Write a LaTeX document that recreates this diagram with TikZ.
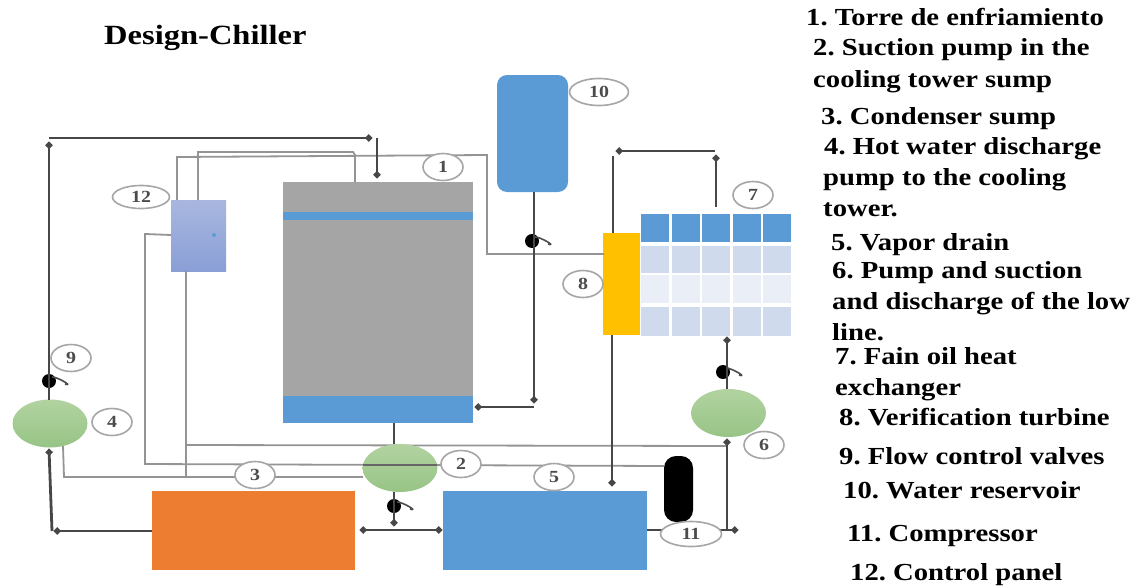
\documentclass[tikz,border=0pt]{standalone}
\usepackage{fontspec}
\setmainfont[FakeStretch=1.17]{Liberation Serif}
\frenchspacing
\usetikzlibrary{arrows.meta,shapes.geometric}
\definecolor{wblue}{HTML}{5B9BD5}
\definecolor{wgray}{HTML}{A5A5A5}
\definecolor{worange}{HTML}{ED7D31}
\definecolor{wyellow}{HTML}{FFC000}
\definecolor{wlt}{HTML}{CFDAEC}
\definecolor{wltt}{HTML}{E9EEF7}
\definecolor{wgl}{HTML}{B2D3A0}
\definecolor{wgd}{HTML}{97C486}
\definecolor{pl}{HTML}{A9B7DF}
\definecolor{pd}{HTML}{8A9FD6}
\tikzset{
 x=1pt,y=-1pt,
 box/.style={rectangle,draw=none,inner sep=0,outer sep=0,minimum width=#1},
 pump/.style={ellipse,draw=none,inner sep=0,outer sep=0,minimum width=75pt,minimum height=48pt,top color=wgl,bottom color=wgd},
 tag/.style={ellipse,draw=black!35,line width=1.6pt,fill=white,inner sep=0,outer sep=0,minimum width=40pt,minimum height=27pt,font=\fontsize{17}{17}\selectfont\bfseries,text=black!70},
 pipe/.style={draw=black!72,line width=2.8pt},
 wire/.style={draw=black!42,line width=1.8pt},
 dot/.style={-{Circle[length=6.5pt]}},
 valve/.style={circle,fill=black,inner sep=0,outer sep=0,minimum size=14pt},
 handle/.style={draw=black!70,line width=1.6pt},
 legend/.style={anchor=base west,inner sep=0,font=\fontsize{24.5}{24.5}\selectfont\bfseries},
 cell/.style={rectangle,inner sep=0,outer sep=0,minimum width=28pt,minimum height=#1},
}
\begin{document}
\begin{tikzpicture}
\useasboundingbox (0,0) rectangle (1139,586);
% equipment
\node[box=190pt,minimum height=241pt,fill=wgray] (tower) at (378,302.5) {};
\node[box=190pt,minimum height=8pt,fill=wblue] (band) at (378,216) {};
\node[box=190pt,minimum height=27pt,fill=wblue] (basin) at (378,409.5) {};
\node[box=55pt,minimum height=71pt,top color=pl,bottom color=pd] (panel) at (198.5,235.5) {};
\node[circle,fill=wblue,inner sep=0,minimum size=4pt] (pdot) at (214,235) {};
\node[box=203pt,minimum height=79pt,fill=worange] (cond) at (253.5,530.5) {};
\node[box=204pt,minimum height=79pt,fill=wblue] (sump) at (545,530.5) {};
\node[rectangle,rounded corners=10pt,fill=wblue,inner sep=0,outer sep=0,minimum width=71pt,minimum height=117pt] (res) at (532.5,133.5) {};
\node[rectangle,rounded corners=12pt,fill=black,inner sep=0,outer sep=0,minimum width=29pt,minimum height=66pt] (comp) at (678.5,489) {};
\node[box=37pt,minimum height=102pt,fill=wyellow] (turb) at (621.5,284) {};
% exchanger table
\foreach \c/\x in {a/655,b/686,c/716,d/747,e/777}{
  \node[cell=28pt,fill=wblue] (h\c) at (\x,227.5) {};
  \node[cell=27pt,fill=wlt] (r\c) at (\x,259.5) {};
  \node[cell=28pt,fill=wltt] (s\c) at (\x,289) {};
  \node[cell=29pt,fill=wlt] (t\c) at (\x,321.5) {};
}
% thin wires
\coordinate (w1) at (177,200); \coordinate (w2) at (198,200);
\coordinate (w3) at (171,235); \coordinate (w4) at (186,271);
\coordinate (w5) at (63,446); \coordinate (w6) at (363,477);
\coordinate (w7) at (664,466); \coordinate (w8) at (727,446);
\coordinate (w9) at (186,477); \coordinate (w10) at (186,445);
\coordinate (w11) at (355,182); \coordinate (w12) at (604,254);
\draw[wire] (w1) -- (177,157) -- (487,155) -- (487,254) -- (w12);
\draw[wire] (w2) -- (198,152) -- (353,152) -- (355,155) -- (w11);
\draw[wire] (w3) -- (145,234) -- (145,464) -- (w7);
\draw[wire] (w4) -- (w9);
\draw[wire] (w10) -- (w8);
\draw[wire] (w5) -- (64,477) -- (w6);
% pumps
\node[pump] (p4) at (50,423.5) {};
\node[pump] (p2) at (400,468) {};
\node[pump] (p6) at (728.5,413) {};
\draw[draw=black!60,line width=1.2pt] (363,465) -- (437,465);
% valves
\node[valve] (v9) at (49,381) {};
\node[valve] (v2) at (394,506) {};
\node[valve] (v6) at (723,372) {};
\node[valve] (v10) at (532,241) {};
\foreach \v in {v9,v2,v6,v10}{
  \draw[handle] (\v.center) ++(3,-4) .. controls +(6,0) and +(9,3) .. ++(13,7);
}
% thick pipes
\coordinate (a1) at (49,400); \coordinate (a2) at (49,142);
\coordinate (a3) at (49,138); \coordinate (a4) at (372,138);
\coordinate (a5) at (377,138); \coordinate (a6) at (377,178);
\draw[pipe,dot] (p4.north -| a1) -- (a2);
\draw[pipe,dot] (a3) -- (a4);
\draw[pipe,dot] (a5) -- (a6);
\coordinate (b1) at (394,423); \coordinate (b2) at (394,444);
\coordinate (b3) at (394,492); \coordinate (b4) at (394,526);
\draw[pipe] (b1) -- (b2);
\draw[pipe,dot] (b3) -- (b4);
\coordinate (c1) at (360,530); \coordinate (c2) at (442,530);
\draw[pipe,{Circle[length=6.5pt]}-{Circle[length=6.5pt]}] (c1) -- (c2);
\coordinate (d1) at (152,531); \coordinate (d2) at (54,531);
\coordinate (d3) at (52,531); \coordinate (d4) at (49,449);
\draw[pipe,dot] (d1) -- (d2);
\draw[pipe,dot] (d3) -- (d4);
\coordinate (e1) at (534,192); \coordinate (e2) at (534,403);
\coordinate (e3) at (534,407); \coordinate (e4) at (475,407);
\draw[pipe,dot] (e1) -- (e2);
\draw[pipe,dot] (e3) -- (e4);
\coordinate (f1) at (612,335); \coordinate (f2) at (612,486);
\draw[pipe,dot] (f1) -- (f2);
\coordinate (g1) at (716,207); \coordinate (g2) at (716,155);
\coordinate (g3) at (715,151); \coordinate (g4) at (616,151);
\coordinate (g5) at (613,156); \coordinate (g6) at (613,233);
\draw[pipe,dot] (g1) -- (g2);
\draw[pipe,dot] (g3) -- (g4);
\draw[pipe] (g5) -- (g6);
\coordinate (i1) at (647,530); \coordinate (i2) at (738,530);
\coordinate (i3) at (727,530); \coordinate (i4) at (727,439);
\coordinate (i5) at (727,389); \coordinate (i6) at (727,337);
\draw[pipe,dot] (i1) -- (i2);
\draw[pipe,dot] (i3) -- (i4);
\draw[pipe,dot] (i5) -- (i6);
% tags
\node[tag] (t1) at (443,167) {1};
\node[tag] (t2) at (461,464) {2};
\node[tag] (t3) at (255,475) {3};
\node[tag] (t4) at (112,422) {4};
\node[tag] (t5) at (554,477) {5};
\node[tag] (t6) at (764,445) {6};
\node[tag] (t7) at (753,195) {7};
\node[tag] (t8) at (583,284) {8};
\node[tag] (t9) at (71,358) {9};
\node[tag,minimum width=59pt] (t10) at (599,92) {10};
\node[tag,minimum width=61pt,minimum height=25pt] (t11) at (691,534) {11};
\node[tag,minimum width=57pt,minimum height=23pt] (t12) at (141,197) {12};
% title and legend
\node[legend,font=\fontsize{27.8}{27.8}\selectfont\bfseries] (title) at (104,45) {Design-Chiller};
\node[legend] (l1) at (806,26) {1. Torre de enfriamiento};
\node[legend] (l2) at (813,56) {2. Suction pump in the};
\node[legend] (l2b) at (813,87) {cooling tower sump};
\node[legend] (l3) at (821,124) {3. Condenser sump};
\node[legend] (l4) at (824,154) {4. Hot water discharge};
\node[legend] (l4b) at (823,185) {pump to the cooling};
\node[legend] (l4c) at (823,216) {tower.};
\node[legend] (l5) at (831,250) {5. Vapor drain};
\node[legend] (l6) at (832,278) {6. Pump and suction};
\node[legend] (l6b) at (832,309) {and discharge of the low};
\node[legend] (l6c) at (832,340) {line.};
\node[legend] (l7) at (835,364) {7. Fain oil heat};
\node[legend] (l7b) at (835,395) {exchanger};
\node[legend] (l8) at (839,425) {8. Verification turbine};
\node[legend] (l9) at (839,464) {9. Flow control valves};
\node[legend] (l10) at (843,498) {10. Water reservoir};
\node[legend] (l11) at (847,541) {11. Compressor};
\node[legend] (l12) at (850,580) {12. Control panel};
\end{tikzpicture}
\end{document}
